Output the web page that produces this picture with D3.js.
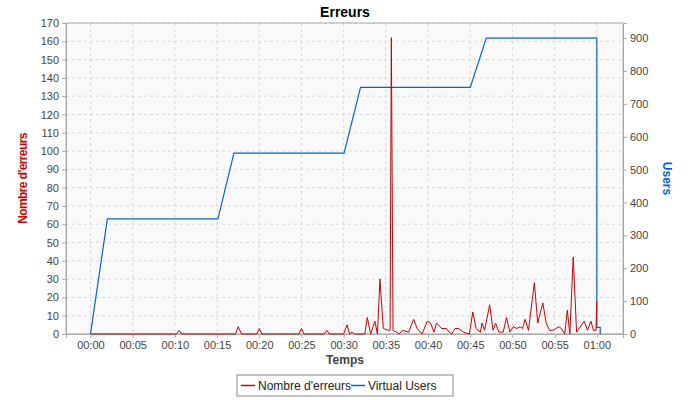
<!DOCTYPE html>
<html><head><meta charset="utf-8">
<script src="https://cdn.jsdelivr.net/npm/d3@7"></script>
<style>body{margin:0;background:#fff}text{font-family:"Liberation Sans",Arial,sans-serif}</style>
</head><body><div id="chart"></div>
<script>
// data: [minutes, value]
var errorPoints = [[0,0],[10.2,0],[10.5,2],[10.8,0],[17.2,0],[17.5,4],[17.9,0],[19.7,0],[20,3],[20.3,0],[24.7,0],[25,3],[25.3,0],[27.7,0],[28,2],[28.3,0],[30,0],[30.4,5],[30.7,0],[31,1],[31.3,0],[32.5,0],[32.8,9],[33.2,0],[33.7,7],[34.0,0],[34.3,30],[34.7,3],[35.3,2],[35.5,2],[35.65,162],[35.85,2],[36.3,1],[36.6,0],[37,2],[37.7,1],[38.3,8],[38.7,3],[39.3,0],[39.9,7],[40.3,6],[40.7,1],[41,6],[41.6,3],[42.2,3],[42.5,1],[42.8,0],[43.2,3],[43.6,3],[44.2,1],[44.9,0],[45.3,12],[45.7,3],[46.2,1],[46.4,6],[46.7,2],[47.3,16],[47.7,2],[48,6],[48.4,1],[48.9,1],[49.3,9],[49.7,1],[50.1,4],[50.5,3],[50.9,4],[51.2,3],[51.5,8],[51.9,2],[52.6,28],[53,6],[53.6,17],[54,6],[54.4,2],[54.8,2],[55.5,4],[55.8,3],[56.2,0],[56.5,13],[56.8,0],[57.2,42],[57.6,1],[58.5,7],[58.9,2],[59.3,7],[59.6,2],[59.9,2],[60,18]];
var userPoints = [[0,0],[2,350],[15.1,350],[17,550],[30.05,550],[32,750],[45,750],[46.9,900],[60,900],[60,20],[60.4,20],[60.4,0]];
var leftTicks = d3.range(0, 171, 10);
var rightTicks = d3.range(0, 901, 100);
var timeTicks = d3.range(0, 61, 5);

var margin = {top: 23, right: 67, bottom: 66, left: 66},
    width = 690 - margin.left - margin.right,
    height = 400 - margin.top - margin.bottom;

var svg = d3.select("#chart").append("svg")
    .attr("width", 690).attr("height", 400);

svg.append("text").attr("x", 345).attr("y", 17).attr("text-anchor", "middle")
    .style("font-size", "14px").style("font-weight", "bold").text("Erreurs");

var g = svg.append("g").attr("transform", "translate(" + margin.left + "," + margin.top + ")");

var x = d3.scaleLinear().domain([-2.9, 63.1]).range([0, width]);
var y = d3.scaleLinear().domain([0, 170]).range([height, 0]);
var y2 = d3.scaleLinear().domain([0, 946]).range([height, 0]);

g.append("rect").attr("width", width).attr("height", height).attr("fill", "#f9f9f9");

// grid
g.selectAll(".hg").data(leftTicks).enter().append("line")
    .attr("x1", 0).attr("x2", width).attr("y1", d => y(d)).attr("y2", d => y(d))
    .attr("stroke", "#d8d8d8").attr("stroke-dasharray", "3,3");
g.selectAll(".vg").data(timeTicks).enter().append("line")
    .attr("y1", 0).attr("y2", height).attr("x1", d => x(d)).attr("x2", d => x(d))
    .attr("stroke", "#d8d8d8").attr("stroke-dasharray", "3,3");

g.append("rect").attr("width", width).attr("height", height).attr("fill", "none").attr("stroke", "#aaa");

function styleAxis(a) {
    a.select(".domain").attr("stroke", "#aaa");
    a.selectAll(".tick line").attr("stroke", "#aaa");
    a.selectAll(".tick text").attr("fill", "#444").style("font-size", "11px").style("font-family", "Liberation Sans, Arial, sans-serif");
}
g.append("g").attr("transform", "translate(0," + height + ")")
    .call(d3.axisBottom(x).tickValues(timeTicks).tickSize(4)
        .tickFormat(d => "0" + Math.floor(d / 60) + ":" + d3.format("02")(d % 60)))
    .call(styleAxis);
g.append("g").call(d3.axisLeft(y).tickValues(leftTicks).tickSize(4)).call(styleAxis);
g.append("g").attr("transform", "translate(" + width + ",0)")
    .call(d3.axisRight(y2).tickValues(rightTicks).tickSize(4)).call(styleAxis);

// series
g.append("path").datum(userPoints).attr("fill", "none").attr("stroke", "#0a64c8").attr("stroke-width", 1.2)
    .attr("d", d3.line().x(d => x(d[0])).y(d => y2(d[1])));
g.append("path").datum(errorPoints).attr("fill", "none").attr("stroke", "#cc0000").attr("stroke-width", 1)
    .attr("d", d3.line().x(d => x(d[0])).y(d => y(d[1])));

// axis titles
svg.append("text").attr("x", 345).attr("y", 364).attr("text-anchor", "middle")
    .style("font-size", "12px").style("font-weight", "bold").attr("fill", "#444").text("Temps");
svg.append("text").attr("transform", "translate(27," + (margin.top + height / 2) + ") rotate(-90)")
    .attr("text-anchor", "middle").style("font-size", "12px").style("font-weight", "bold")
    .style("letter-spacing", "-0.6px").attr("fill", "#cc0000").text("Nombre d'erreurs");
svg.append("text").attr("transform", "translate(663," + (margin.top + height / 2) + ") rotate(90)")
    .attr("text-anchor", "middle").style("font-size", "12px").style("font-weight", "bold")
    .attr("fill", "#0a64c8").text("Users");

// legend
var lg = svg.append("g").attr("transform", "translate(237,375)");
lg.append("rect").attr("width", 216).attr("height", 21).attr("fill", "#fff").attr("stroke", "#888");
var items = [["Nombre d'erreurs", "#cc0000", 4], ["Virtual Users", "#0a64c8", 114]];
items.forEach(function(it) {
    lg.append("line").attr("x1", it[2]).attr("x2", it[2] + 14).attr("y1", 10.5).attr("y2", 10.5)
        .attr("stroke", it[1]).attr("stroke-width", 1.5);
    lg.append("text").attr("x", it[2] + 17).attr("y", 15).style("font-size", "12px")
        .attr("fill", "#222").text(it[0]);
});
</script></body></html>
